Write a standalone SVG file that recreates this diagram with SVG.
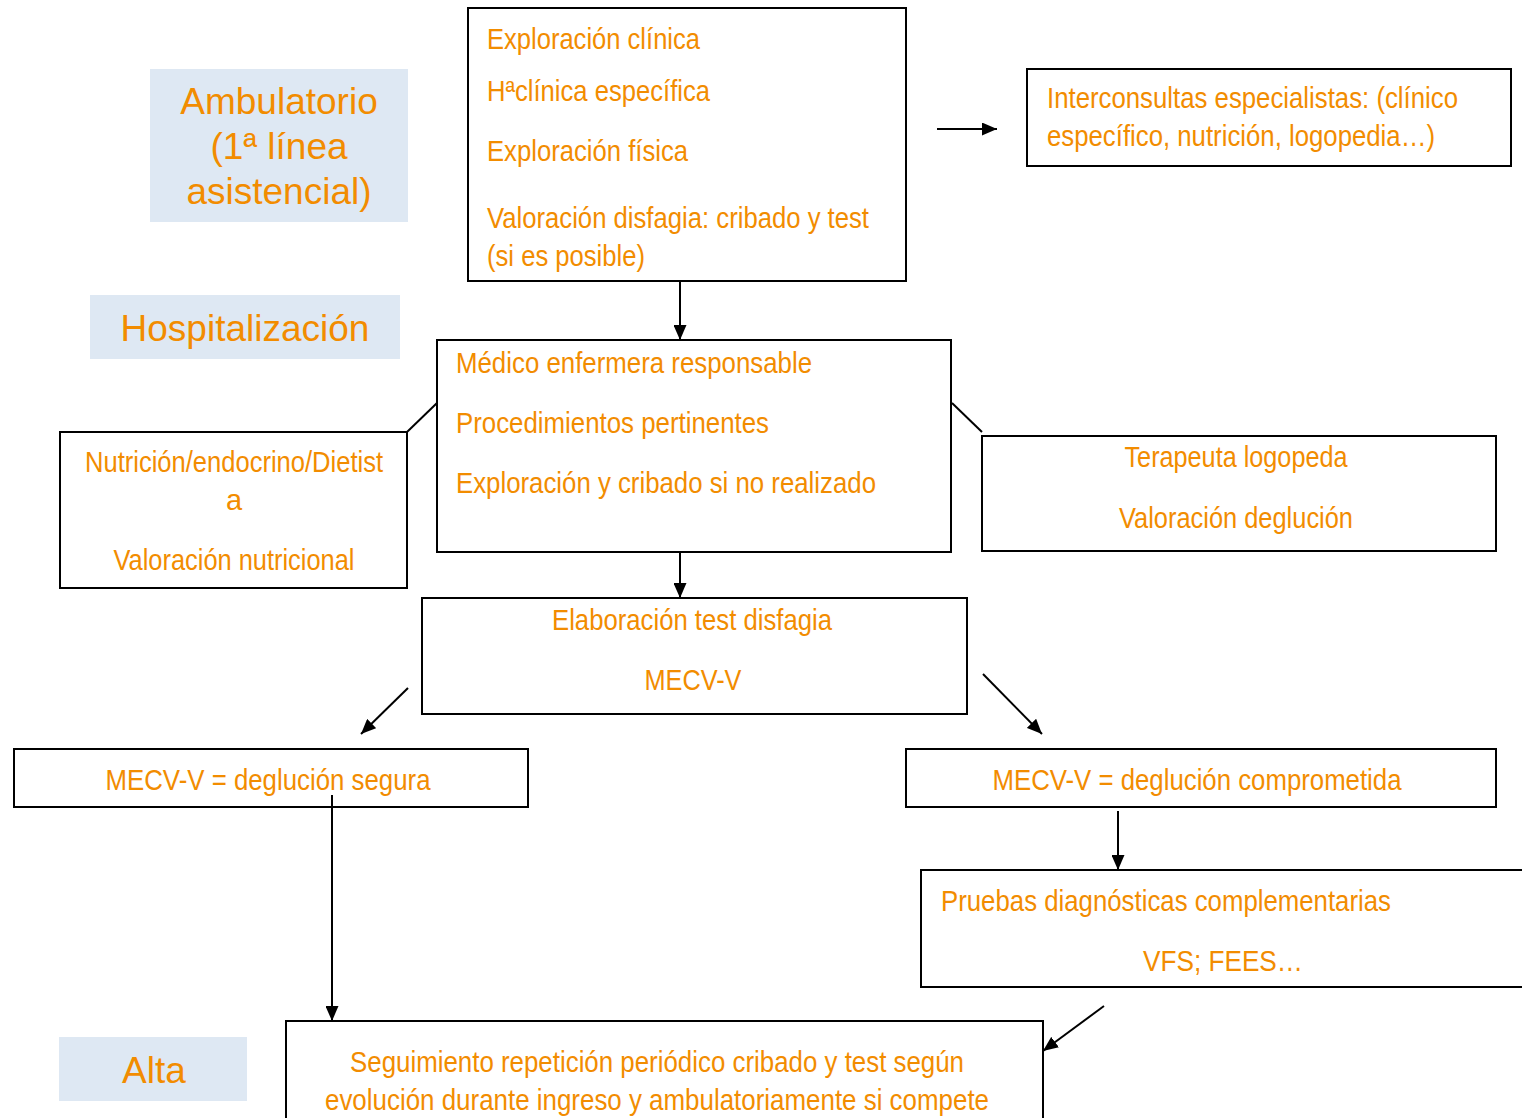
<svg xmlns="http://www.w3.org/2000/svg" width="1522" height="1118" viewBox="0 0 1522 1118">
<style>
.box{fill:#fff;stroke:#000;stroke-width:2}
.lbl{fill:#DEE8F3}
.t{font-family:"Liberation Sans Narrow","Arial Narrow","Liberation Sans",sans-serif;font-size:29px;fill:#F28C00}
.big{font-family:"Liberation Sans",Arial,sans-serif;font-size:37px;fill:#F28C00}
.c{text-anchor:middle}
.ln{stroke:#000;stroke-width:2;fill:none}
</style>
<defs>
<marker id="ah" viewBox="0 0 15 13" refX="15" refY="6.5" markerWidth="15" markerHeight="13" markerUnits="userSpaceOnUse" orient="auto">
<path d="M0,0 L15,6.5 L0,13 Z" fill="#000"/>
</marker>
</defs>
<rect width="1522" height="1118" fill="#fff"/>
<g id="lbl-ambulatorio">
<rect class="lbl" x="150" y="69" width="258" height="153"/>
<text class="big c" x="279" y="114">Ambulatorio</text>
<text class="big c" x="279" y="159">(1ª línea</text>
<text class="big c" x="279" y="204">asistencial)</text>
</g>
<g id="lbl-hosp">
<rect class="lbl" x="90" y="295" width="310" height="64"/>
<text class="big c" x="245" y="341">Hospitalización</text>
</g>
<g id="lbl-alta">
<rect class="lbl" x="59" y="1037" width="188" height="64"/>
<text class="big c" x="154" y="1083">Alta</text>
</g>
<g id="connectors">
<line class="ln" x1="937" y1="129" x2="997" y2="129" marker-end="url(#ah)"/>
<line class="ln" x1="680" y1="281" x2="680" y2="340" marker-end="url(#ah)"/>
<line class="ln" x1="437" y1="403" x2="407" y2="432"/>
<line class="ln" x1="952" y1="403" x2="982" y2="432"/>
<line class="ln" x1="680" y1="538" x2="680" y2="598" marker-end="url(#ah)"/>
<line class="ln" x1="408" y1="688" x2="361" y2="734" marker-end="url(#ah)"/>
<line class="ln" x1="983" y1="674" x2="1042" y2="734" marker-end="url(#ah)"/>
<line class="ln" x1="1118" y1="811" x2="1118" y2="870" marker-end="url(#ah)"/>
<line class="ln" x1="1104" y1="1006" x2="1043" y2="1051" marker-end="url(#ah)"/>
</g>
<g id="n-exploracion">
<rect class="box" x="468" y="8" width="438" height="273"/>
<text class="t" x="487" y="49" textLength="213" lengthAdjust="spacingAndGlyphs">Exploración clínica</text>
<text class="t" x="487" y="101" textLength="223" lengthAdjust="spacingAndGlyphs">Hªclínica específica</text>
<text class="t" x="487" y="161" textLength="201" lengthAdjust="spacingAndGlyphs">Exploración física</text>
<text class="t" x="487" y="228" textLength="382" lengthAdjust="spacingAndGlyphs">Valoración disfagia: cribado y test</text>
<text class="t" x="487" y="266" textLength="158" lengthAdjust="spacingAndGlyphs">(si es posible)</text>
</g>
<g id="n-interconsultas">
<rect class="box" x="1027" y="69" width="484" height="97"/>
<text class="t" x="1047" y="108" textLength="411" lengthAdjust="spacingAndGlyphs">Interconsultas especialistas: (clínico</text>
<text class="t" x="1047" y="146" textLength="388" lengthAdjust="spacingAndGlyphs">específico, nutrición, logopedia…)</text>
</g>
<g id="n-medico">
<rect class="box" x="437" y="340" width="514" height="212"/>
<text class="t" x="456" y="373" textLength="356" lengthAdjust="spacingAndGlyphs">Médico enfermera responsable</text>
<text class="t" x="456" y="433" textLength="313" lengthAdjust="spacingAndGlyphs">Procedimientos pertinentes</text>
<text class="t" x="456" y="493" textLength="420" lengthAdjust="spacingAndGlyphs">Exploración y cribado si no realizado</text>
</g>
<g id="n-nutricion">
<rect class="box" x="60" y="432" width="347" height="156"/>
<text class="t c" x="234" y="472" textLength="298" lengthAdjust="spacingAndGlyphs">Nutrición/endocrino/Dietist</text>
<text class="t c" x="234" y="510">a</text>
<text class="t c" x="234" y="570" textLength="241" lengthAdjust="spacingAndGlyphs">Valoración nutricional</text>
</g>
<g id="n-terapeuta">
<rect class="box" x="982" y="436" width="514" height="115"/>
<text class="t c" x="1236" y="467" textLength="223" lengthAdjust="spacingAndGlyphs">Terapeuta logopeda</text>
<text class="t c" x="1236" y="528" textLength="234" lengthAdjust="spacingAndGlyphs">Valoración deglución</text>
</g>
<g id="n-elaboracion">
<rect class="box" x="422" y="598" width="545" height="116"/>
<text class="t c" x="692" y="630" textLength="280" lengthAdjust="spacingAndGlyphs">Elaboración test disfagia</text>
<text class="t c" x="693" y="690" textLength="97" lengthAdjust="spacingAndGlyphs">MECV-V</text>
</g>
<g id="n-segura">
<rect class="box" x="14" y="749" width="514" height="58"/>
<text class="t c" x="268" y="790" textLength="325" lengthAdjust="spacingAndGlyphs">MECV-V = deglución segura</text>
</g>
<g id="n-comprometida">
<rect class="box" x="906" y="749" width="590" height="58"/>
<text class="t c" x="1197" y="790" textLength="409" lengthAdjust="spacingAndGlyphs">MECV-V = deglución comprometida</text>
</g>
<g id="n-pruebas">
<rect class="box" x="921" y="870" width="620" height="117"/>
<text class="t" x="941" y="911" textLength="450" lengthAdjust="spacingAndGlyphs">Pruebas diagnósticas complementarias</text>
<text class="t c" x="1223" y="971" textLength="160" lengthAdjust="spacingAndGlyphs">VFS; FEES…</text>
</g>
<g id="n-seguimiento">
<rect class="box" x="286" y="1021" width="757" height="120"/>
<text class="t c" x="657" y="1072" textLength="614" lengthAdjust="spacingAndGlyphs">Seguimiento repetición periódico cribado y test según</text>
<text class="t c" x="657" y="1110" textLength="664" lengthAdjust="spacingAndGlyphs">evolución durante ingreso y ambulatoriamente si compete</text>
</g>
<g id="connectors-2">
<line class="ln" x1="332" y1="795" x2="332" y2="1021" marker-end="url(#ah)"/>
</g>
</svg>
